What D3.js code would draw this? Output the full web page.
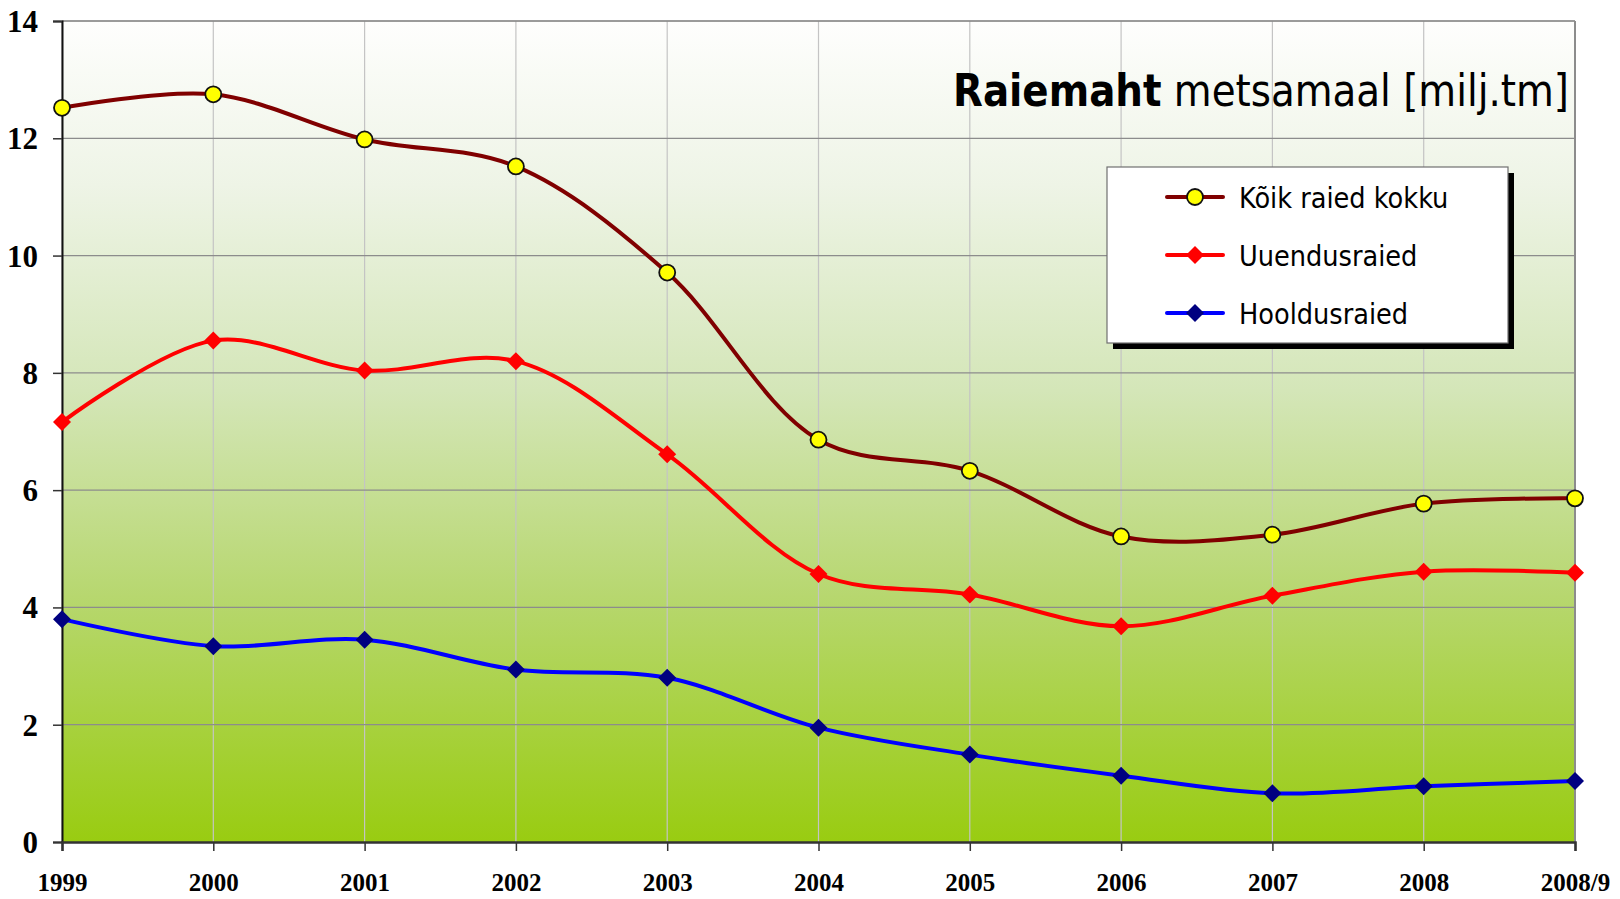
<!DOCTYPE html>
<html>
<head>
<meta charset="utf-8">
<script src="https://cdn.jsdelivr.net/npm/d3@7"></script>
<style>
  html, body { margin: 0; padding: 0; background: #ffffff; }
  svg { display: block; }
</style>
</head>
<body>
<script>
const categories = ["1999","2000","2001","2002","2003","2004","2005","2006","2007","2008","2008/9"];
const koikRaied   = [12.52, 12.75, 11.98, 11.52, 9.71, 6.86, 6.33, 5.21, 5.24, 5.77, 5.86];
const uuendusraied = [7.16, 8.55, 8.04, 8.20, 6.61, 4.57, 4.22, 3.68, 4.20, 4.61, 4.59];
const hooldusraied = [3.80, 3.34, 3.45, 2.94, 2.80, 1.95, 1.49, 1.13, 0.83, 0.95, 1.04];
const yTicks = [0, 2, 4, 6, 8, 10, 12, 14];
const seriesNames = ["Kõik raied kokku", "Uuendusraied", "Hooldusraied"];
const titleBold = "Raiemaht";
const titleRest = " metsamaal [milj.tm]";

(function () {
const W = 1620, H = 899;
const pL = 62, pR = 1575, pT = 21, pB = 842;

const svg = d3.select("body").append("svg").attr("width", W).attr("height", H);

const x = d3.scalePoint().domain(categories).range([pL, pR]);
const y = d3.scaleLinear().domain([0, 14]).range([pB, pT]);

const defs = svg.append("defs");
const grad = defs.append("linearGradient").attr("id", "bg").attr("x1", 0).attr("y1", 0).attr("x2", 0).attr("y2", 1);
[[0, "#fefefd"], [0.2, "#eef4e6"], [0.45, "#d4e6b8"], [0.7, "#b7d76f"], [1, "#99cc11"]].forEach(s =>
  grad.append("stop").attr("offset", s[0]).attr("stop-color", s[1]));

svg.append("rect").attr("x", pL).attr("y", pT).attr("width", pR - pL).attr("height", pB - pT)
  .attr("fill", "url(#bg)");

svg.append("g").selectAll("line").data(categories).join("line")
  .attr("x1", d => x(d)).attr("x2", d => x(d)).attr("y1", pT).attr("y2", pB)
  .attr("stroke", "#c4c4c4").attr("stroke-width", 1.2);

svg.append("g").selectAll("line").data(yTicks.slice(1)).join("line")
  .attr("x1", pL).attr("x2", pR).attr("y1", d => y(d)).attr("y2", d => y(d))
  .attr("stroke", "#8c8c8c").attr("stroke-width", 1.2);

svg.append("line").attr("x1", pR).attr("x2", pR).attr("y1", pT).attr("y2", pB)
  .attr("stroke", "#8c8c8c").attr("stroke-width", 2);
svg.append("line").attr("x1", pL).attr("x2", pR).attr("y1", pT).attr("y2", pT)
  .attr("stroke", "#8c8c8c").attr("stroke-width", 1.5);

const yAxis = d3.axisLeft(y).tickValues(yTicks).tickSize(9).tickFormat(d3.format("d"));
const gy = svg.append("g").attr("transform", `translate(${pL},0)`).call(yAxis);
gy.select(".domain").attr("stroke", "#111").attr("stroke-width", 2);
gy.selectAll(".tick line").attr("stroke", "#333").attr("stroke-width", 1.5);
gy.selectAll(".tick text").attr("x", -24).attr("dy", "0.34em")
  .attr("font-family", "'Liberation Serif', 'Times New Roman', serif")
  .attr("font-weight", "bold").attr("font-size", 31).attr("fill", "#000");

const xAxis = d3.axisBottom(x).tickSize(9);
const gx = svg.append("g").attr("transform", `translate(0,${pB})`).call(xAxis);
gx.select(".domain").attr("stroke", "#333").attr("stroke-width", 2.5);
gx.selectAll(".tick line").attr("stroke", "#333").attr("stroke-width", 1.5);
gx.selectAll(".tick text").attr("y", 49).attr("dy", 0)
  .attr("font-family", "'Liberation Serif', 'Times New Roman', serif")
  .attr("font-weight", "bold").attr("font-size", 25).attr("fill", "#000");

const line = d3.line().x((d, i) => x(categories[i])).y(d => y(d)).curve(d3.curveCatmullRom.alpha(0.5));
const series = [
  { name: seriesNames[0], values: koikRaied, color: "#800000", marker: "circle", mfill: "#ffff00" },
  { name: seriesNames[1], values: uuendusraied, color: "#ff0000", marker: "diamond", mfill: "#ff0000" },
  { name: seriesNames[2], values: hooldusraied, color: "#0000ff", marker: "diamond", mfill: "#000080" }
];

function drawMarker(g, s, cx, cy) {
  if (s.marker === "circle") {
    g.append("circle").attr("cx", cx).attr("cy", cy).attr("r", 8)
      .attr("fill", s.mfill).attr("stroke", "#111").attr("stroke-width", 1.8);
  } else {
    const r = 9;
    g.append("path").attr("d", `M${cx},${cy - r}L${cx + r},${cy}L${cx},${cy + r}L${cx - r},${cy}Z`)
      .attr("fill", s.mfill);
  }
}

series.slice().reverse().forEach(s => {
  svg.append("path").attr("d", line(s.values)).attr("fill", "none")
    .attr("stroke", s.color).attr("stroke-width", 4).attr("stroke-linejoin", "round");
});
series.slice().reverse().forEach(s => {
  const g = svg.append("g");
  s.values.forEach((v, i) => drawMarker(g, s, x(categories[i]), y(v)));
});

const title = svg.append("text").attr("x", 953).attr("y", 106)
  .attr("font-family", "'DejaVu Sans Condensed', 'DejaVu Sans', Verdana, sans-serif")
  .attr("font-size", 44).attr("fill", "#000");
title.append("tspan").attr("font-weight", "bold").text(titleBold);
title.append("tspan").text(titleRest);
title.attr("textLength", 616).attr("lengthAdjust", "spacingAndGlyphs");

const lg = svg.append("g");
lg.append("rect").attr("x", 1113).attr("y", 173).attr("width", 401).attr("height", 176).attr("fill", "#000");
lg.append("rect").attr("x", 1107).attr("y", 167).attr("width", 401).attr("height", 176)
  .attr("fill", "#fff").attr("stroke", "#707070").attr("stroke-width", 1.2);
const rowY = [197, 255, 313];
series.forEach((s, i) => {
  const cy = rowY[i];
  lg.append("line").attr("x1", 1167).attr("x2", 1223).attr("y1", cy).attr("y2", cy)
    .attr("stroke", s.color).attr("stroke-width", 4).attr("stroke-linecap", "round");
  drawMarker(lg, s, 1195, cy);
  lg.append("text").attr("x", 1239).attr("y", cy + 11)
    .attr("font-family", "'DejaVu Sans Condensed', 'DejaVu Sans', Verdana, sans-serif")
    .attr("font-size", 28.5).attr("fill", "#000").text(s.name);
});
})();
</script>
</body>
</html>
